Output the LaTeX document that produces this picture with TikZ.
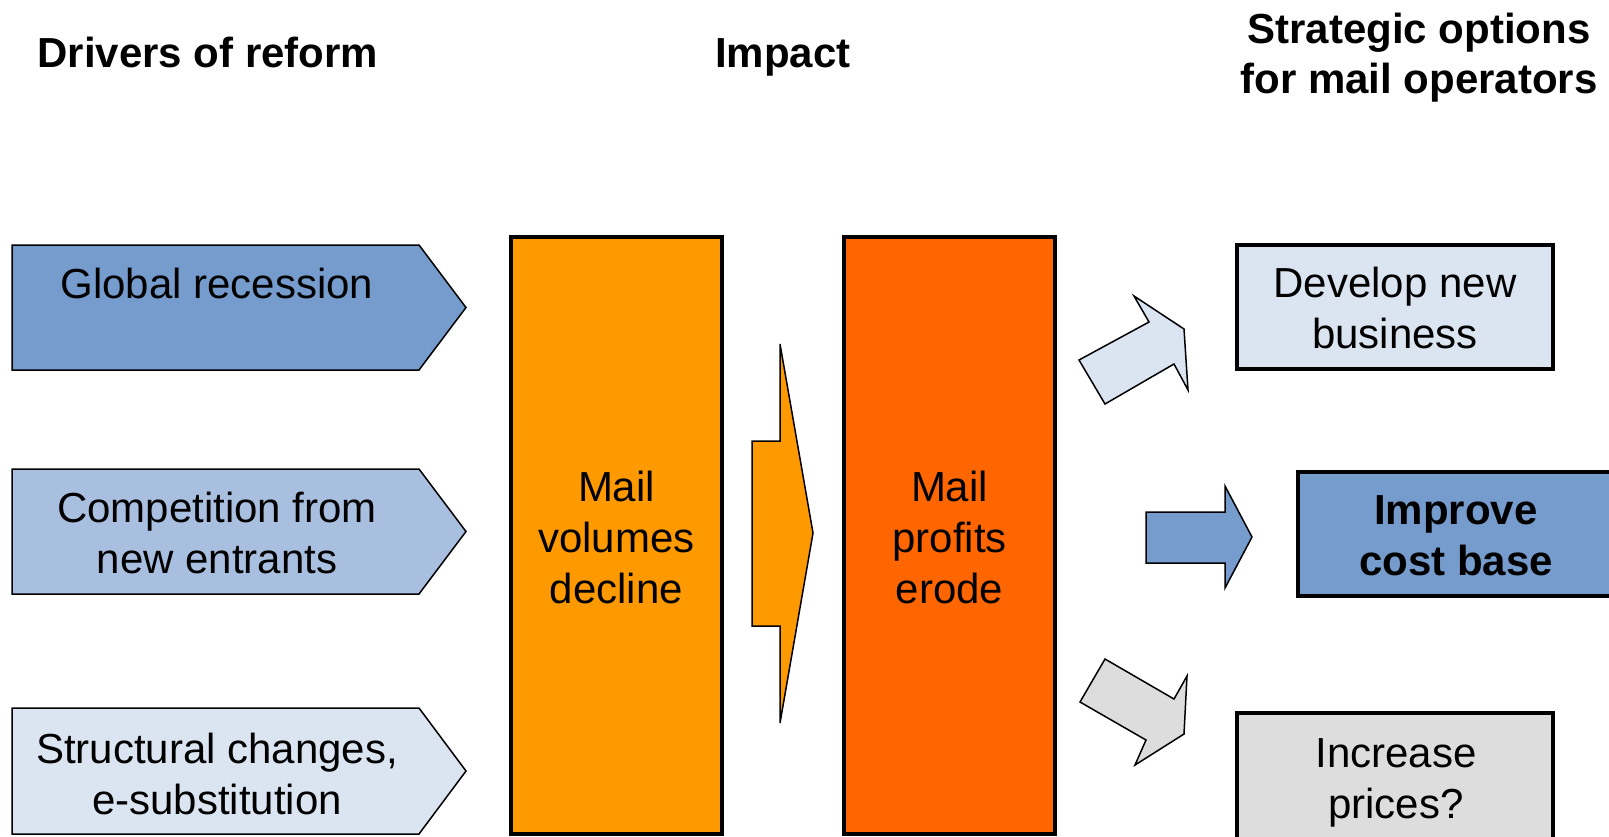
\documentclass[tikz,border=0pt]{standalone}
\usepackage{fontspec}
\setmainfont{Liberation Sans}
\definecolor{blueA}{RGB}{117,156,204}
\definecolor{blueB}{RGB}{169,191,224}
\definecolor{blueC}{RGB}{219,228,241}
\definecolor{orangeA}{RGB}{255,153,0}
\definecolor{orangeB}{RGB}{255,102,0}
\definecolor{greyA}{RGB}{221,221,221}
\begin{document}
\begin{tikzpicture}[x=1pt,y=-1pt,
  chev/.style={draw=black, line width=1.5pt, line join=miter},
  blockarrow/.style={draw=black, line width=1.5pt, line join=miter},
  optbox/.style={draw=black, line width=3.5pt},
  mailbox/.style={draw=black, line width=3.5pt},
  txt/.style={font=\fontsize{42}{51}\selectfont, align=center, inner sep=0pt},
  ttl/.style={font=\fontsize{42}{50}\selectfont\bfseries, align=center, inner sep=0pt}
]
\clip (0,0) rectangle (1609,836);
\fill[white] (0,0) rectangle (1609,836);

% titles
\node[ttl] (t1) at (208,57.5) {\strut Drivers of reform};
\node[ttl] (t2) at (783,57.5) {\strut Impact};
\node[ttl] (t3) at (1419,58) {\strut Strategic options\\\strut for mail operators};

% drivers (chevrons)
\draw[chev, fill=blueA] (12,245) -- (419,245) -- (466,307.5) -- (419,370) -- (12,370) -- cycle;
\draw[chev, fill=blueB] (12,469) -- (419,469) -- (466,531.5) -- (419,594) -- (12,594) -- cycle;
\draw[chev, fill=blueC] (12,708) -- (419,708) -- (466,771) -- (419,834) -- (12,834) -- cycle;
\node[txt] (d1) at (217,288) {\strut Global recession};
\node[txt] (d2) at (217,537.5) {\strut Competition from\\\strut new entrants};
\node[txt] (d3) at (217,779) {\strut Structural changes,\\\strut e-substitution};

% impact boxes
\draw[mailbox, fill=orangeA] (511,237) rectangle (722,834);
\draw[mailbox, fill=orangeB] (844,237) rectangle (1055,834);
\node[txt] (mv) at (616.5,542) {\strut Mail\\\strut volumes\\\strut decline};
\node[txt] (mp) at (949.5,542) {\strut Mail\\\strut profits\\\strut erode};

% orange arrow between impact boxes
\draw[blockarrow, fill=orangeA] (752,441) -- (780,441) -- (780,344) -- (813,533) -- (780,723) -- (780,626) -- (752,626) -- cycle;

% option arrows
\draw[blockarrow, fill=blueC] (1079,360) -- (1149,322) -- (1134,296) -- (1184,329) -- (1188,390) -- (1174,364) -- (1105,404) -- cycle;
\draw[blockarrow, fill=blueA] (1146,512) -- (1225,512) -- (1225,486) -- (1252,537) -- (1225,588) -- (1225,563) -- (1146,563) -- cycle;
\draw[blockarrow, fill=greyA] (1105,659) -- (1174,699) -- (1187,676) -- (1184,734) -- (1135,765) -- (1146,740) -- (1080,702) -- cycle;

% option boxes
\draw[optbox, fill=blueC] (1237,245) rectangle (1553,369);
\draw[optbox, fill=blueA] (1298,472) rectangle (1617,596);
\draw[optbox, fill=greyA] (1237,713) rectangle (1553,850);
\node[txt] (o1) at (1395,313) {\strut Develop new\\\strut business};
\node[txt, font=\fontsize{42}{51}\selectfont\bfseries] (o2) at (1456,540) {\strut Improve\\\strut cost base};
\node[txt] (o3) at (1396,783) {\strut Increase\\\strut prices?};
\end{tikzpicture}
\end{document}
